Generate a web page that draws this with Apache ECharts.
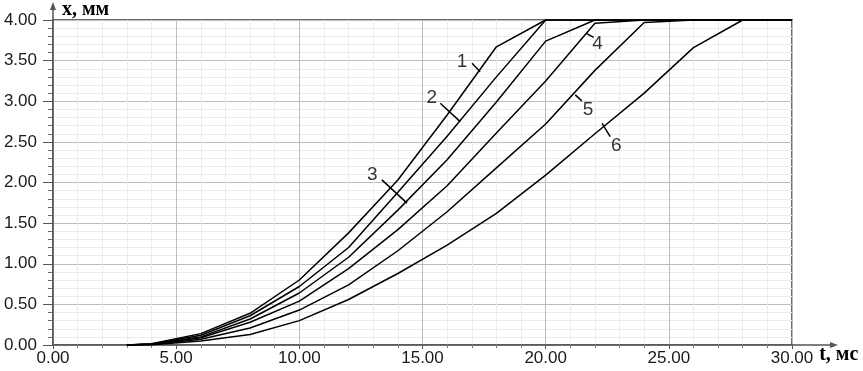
<!DOCTYPE html>
<html>
<head>
<meta charset="utf-8">
<script src="https://cdn.jsdelivr.net/npm/echarts@6/dist/echarts.min.js"></script>
<style>html,body{margin:0;padding:0;background:#fff}#c{width:863px;height:371px}</style>
</head>
<body>
<div id="c"></div>
<script>
var t  = [3, 4, 6, 8, 10, 12, 14, 16, 18, 20, 22, 24, 26, 28, 30];
var s1 = [0, 0.015, 0.14, 0.39, 0.80, 1.38, 2.03, 2.83, 3.67, 4.00, 4.00, 4.00, 4.00, 4.00, 4.00];
var s2 = [0, 0.012, 0.12, 0.36, 0.72, 1.20, 1.88, 2.57, 3.30, 4.00, 4.00, 4.00, 4.00, 4.00, 4.00];
var s3 = [0, 0.010, 0.10, 0.32, 0.64, 1.08, 1.66, 2.28, 2.99, 3.74, 4.00, 4.00, 4.00, 4.00, 4.00];
var s4 = [0, 0.008, 0.09, 0.28, 0.54, 0.94, 1.42, 1.96, 2.61, 3.25, 3.96, 4.00, 4.00, 4.00, 4.00];
var s5 = [0, 0.006, 0.07, 0.21, 0.43, 0.74, 1.16, 1.64, 2.18, 2.72, 3.38, 3.97, 4.00, 4.00, 4.00];
var s6 = [0, 0.004, 0.05, 0.13, 0.30, 0.56, 0.88, 1.23, 1.62, 2.09, 2.60, 3.10, 3.66, 4.00, 4.00];
var curveNames = ['1', '2', '3', '4', '5', '6'];
// annotation labels (data coordinates)
var labelPos = [[16.60, 3.49], [15.38, 3.04], [12.96, 2.09], [22.11, 3.71], [21.72, 2.89], [22.87, 2.45]];
var leaderFrom = [[17.01, 3.467], [15.72, 2.976], [13.35, 2.032], [21.65, 3.836], [21.20, 3.078], [22.29, 2.727]];
var leaderTo   = [[17.34, 3.364], [16.53, 2.749], [14.37, 1.746], [21.95, 3.787], [21.47, 3.004], [22.62, 2.565]];
var xName = 't, мс';
var yName = 'x, мм';

var allSeries = [s1, s2, s3, s4, s5, s6];
var chart = echarts.init(document.getElementById('c'), null, {renderer: 'canvas'});

var series = allSeries.map(function (s, i) {
  return {
    name: curveNames[i], type: 'line', showSymbol: false, symbol: 'none',
    data: t.map(function (x, j) { return [x, s[j]]; }),
    lineStyle: {color: '#000', width: 1.5}, z: 5, animation: false, silent: true
  };
});
series.push({
  type: 'line', data: [], silent: true, animation: false,
  markLine: {
    symbol: ['none', 'none'], silent: true, animation: false,
    lineStyle: {color: '#000', width: 1.5, type: 'solid'},
    label: {show: false},
    data: leaderFrom.map(function (a, i) { return [{coord: a}, {coord: leaderTo[i]}]; })
  }
});
series.push({
  type: 'scatter', symbolSize: 0, silent: true, animation: false, z: 6,
  data: labelPos.map(function (p, i) { return {value: p, name: curveNames[i]}; }),
  label: {show: true, position: 'inside', formatter: '{b}', fontFamily: 'Liberation Sans, Arial, sans-serif', fontSize: 19, color: '#000'}
});

chart.setOption({
  animation: false,
  grid: {left: 53, right: 71, top: 20, bottom: 26, show: true, borderColor: '#6a6a6a', borderWidth: 2, backgroundColor: 'transparent'},
  xAxis: {
    type: 'value', min: 0, max: 30, interval: 5,
    name: xName, nameLocation: 'end', nameGap: 23,
    nameTextStyle: {fontFamily: 'Liberation Serif, Times New Roman, serif', fontWeight: 'bold', fontSize: 20, color: '#000', verticalAlign: 'top', align: 'left', padding: [0, 0, 0, 0]},
    axisLine: {show: true, lineStyle: {color: '#555', width: 1.5}},
    axisTick: {show: true, length: 4, lineStyle: {color: '#555'}},
    minorTick: {show: true, splitNumber: 5, length: 3, lineStyle: {color: '#777'}},
    splitLine: {show: true, lineStyle: {color: '#bdbdbd', width: 1}},
    minorSplitLine: {show: true, lineStyle: {color: '#ebebeb', width: 1}},
    axisLabel: {formatter: function (v) { return v.toFixed(2); }, fontFamily: 'Liberation Sans, Arial, sans-serif', fontSize: 17, color: '#1a1a1a', margin: 5, showMaxLabel: true}
  },
  yAxis: {
    type: 'value', min: 0, max: 4, interval: 0.5,
    name: yName, nameLocation: 'end', nameGap: 10,
    nameTextStyle: {fontFamily: 'Liberation Serif, Times New Roman, serif', fontWeight: 'bold', fontSize: 20, color: '#000', align: 'left', verticalAlign: 'middle', padding: [0, 0, 0, 9]},
    axisLine: {show: true, lineStyle: {color: '#555', width: 1.5}},
    axisTick: {show: true, length: 10, lineStyle: {color: '#555'}},
    minorTick: {show: true, splitNumber: 5, length: 5, lineStyle: {color: '#666'}},
    splitLine: {show: true, lineStyle: {color: '#bdbdbd', width: 1}},
    minorSplitLine: {show: true, lineStyle: {color: '#ebebeb', width: 1}},
    axisLabel: {formatter: function (v) { return v.toFixed(2); }, fontFamily: 'Liberation Sans, Arial, sans-serif', fontSize: 17, color: '#1a1a1a', margin: 16}
  },
  series: series
});

// axis arrow extensions (decoration, placed from the axis scale)
var pX = chart.convertToPixel({gridIndex: 0}, [30, 0]);
var pY = chart.convertToPixel({gridIndex: 0}, [0, 4]);
chart.setOption({
  graphic: [
    {type: 'line', shape: {x1: pX[0], y1: pX[1], x2: pX[0] + 42, y2: pX[1]}, style: {stroke: '#555', lineWidth: 1.5}, silent: true},
    {type: 'polygon', shape: {points: [[pX[0] + 46, pX[1]], [pX[0] + 38, pX[1] - 3], [pX[0] + 38, pX[1] + 3]]}, style: {fill: '#555'}, silent: true},
    {type: 'line', shape: {x1: pY[0], y1: pY[1], x2: pY[0], y2: pY[1] - 14}, style: {stroke: '#555', lineWidth: 1.5}, silent: true},
    {type: 'polygon', shape: {points: [[pY[0], pY[1] - 18], [pY[0] - 3, pY[1] - 10], [pY[0] + 3, pY[1] - 10]]}, style: {fill: '#555'}, silent: true}
  ]
});
</script>
</body>
</html>
